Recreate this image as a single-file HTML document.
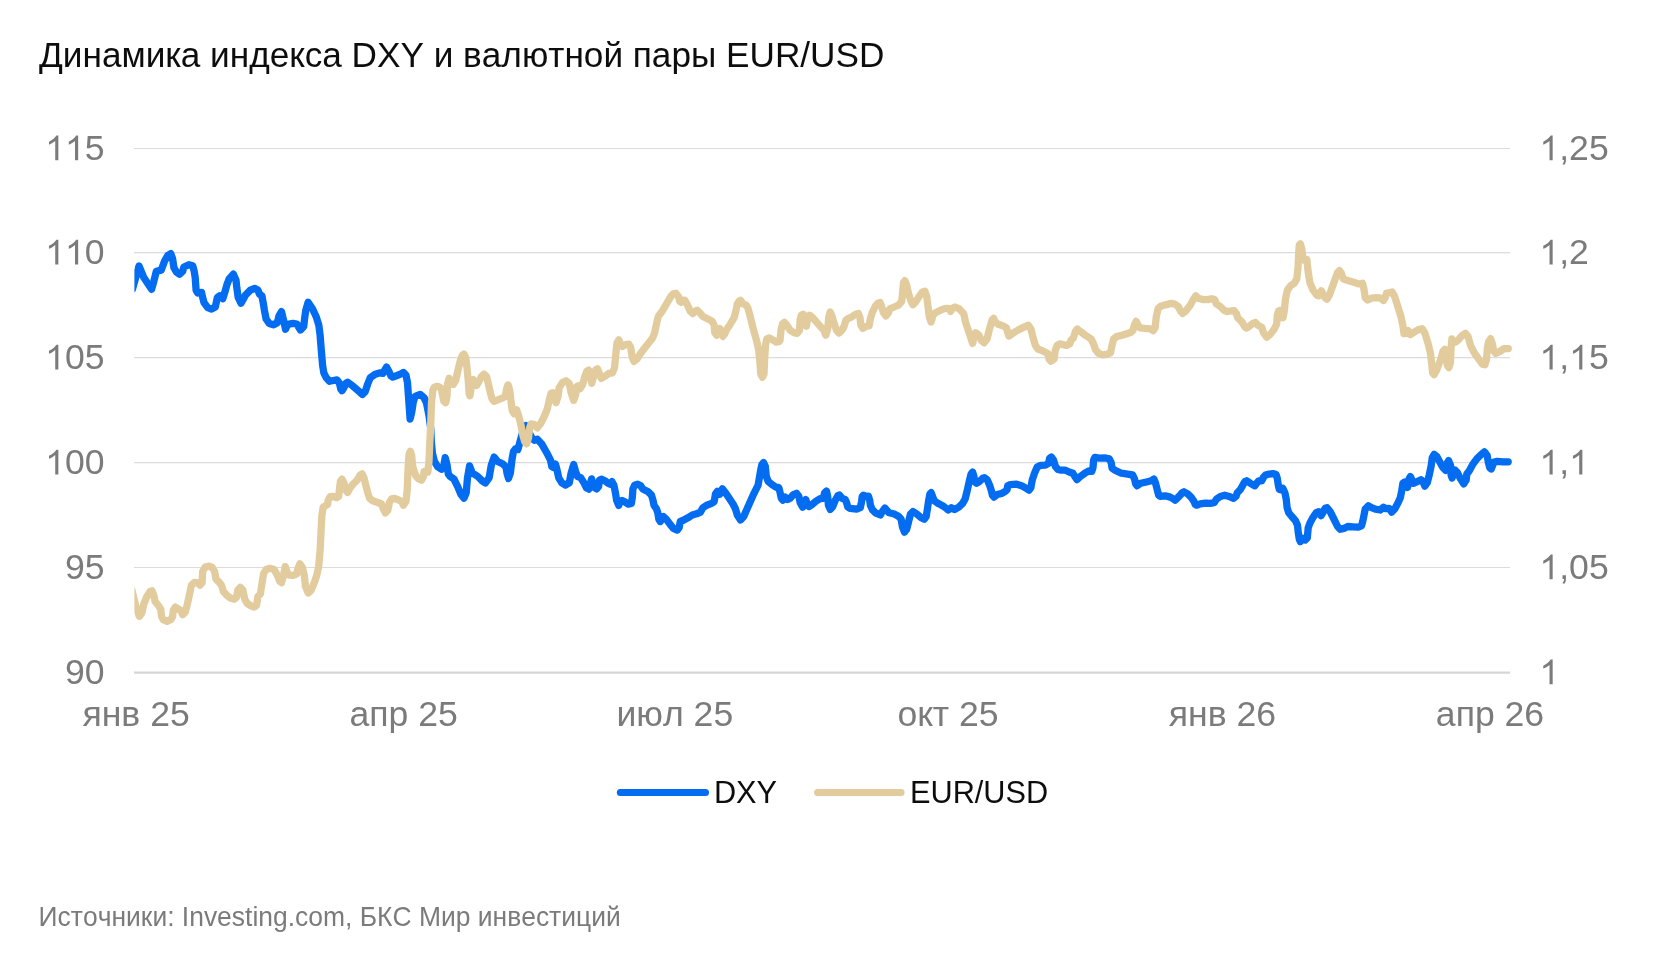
<!DOCTYPE html>
<html><head><meta charset="utf-8"><title>chart</title>
<style>
html,body{margin:0;padding:0;background:#fff;}
body{width:1670px;height:957px;overflow:hidden;font-family:"Liberation Sans",sans-serif;}
svg{display:block;font-family:"Liberation Sans",sans-serif;font-kerning:none;will-change:transform;}
text{font-kerning:none;}
</style></head><body>
<svg width="1670" height="957" viewBox="0 0 1670 957">
<rect width="1670" height="957" fill="#ffffff"/>
<g font-size="35.2" fill="#0d0d0d"><text transform="translate(39 66.5) scale(1 1.01)">Динамика индекса DXY и валютной пары EUR/USD</text></g>
<line x1="134" x2="1510" y1="148.5" y2="148.5" stroke="#dcdcdc" stroke-width="1.2"/><line x1="134" x2="1510" y1="252.6" y2="252.6" stroke="#dcdcdc" stroke-width="1.2"/><line x1="134" x2="1510" y1="357.6" y2="357.6" stroke="#dcdcdc" stroke-width="1.2"/><line x1="134" x2="1510" y1="462.6" y2="462.6" stroke="#dcdcdc" stroke-width="1.2"/><line x1="134" x2="1510" y1="567.5" y2="567.5" stroke="#dcdcdc" stroke-width="1.2"/>
<line x1="134" x2="1510" y1="672.6" y2="672.6" stroke="#d6d6d6" stroke-width="2.2"/>
<g font-size="35.6" fill="#7b7b7b"><path transform="translate(45.10 160.3) scale(0.01738 -0.01681)" d="M763 0L583 0L583 1147Q518 1085 412.5 1023Q307 961 223 930L223 1104Q374 1175 487 1276Q600 1377 647 1472L763 1472Z"/><path transform="translate(64.90 160.3) scale(0.01738 -0.01681)" d="M763 0L583 0L583 1147Q518 1085 412.5 1023Q307 961 223 930L223 1104Q374 1175 487 1276Q600 1377 647 1472L763 1472Z"/><text transform="translate(84.7 160.3) scale(1 1.01)">5</text><path transform="translate(45.10 264.4) scale(0.01738 -0.01681)" d="M763 0L583 0L583 1147Q518 1085 412.5 1023Q307 961 223 930L223 1104Q374 1175 487 1276Q600 1377 647 1472L763 1472Z"/><path transform="translate(64.90 264.4) scale(0.01738 -0.01681)" d="M763 0L583 0L583 1147Q518 1085 412.5 1023Q307 961 223 930L223 1104Q374 1175 487 1276Q600 1377 647 1472L763 1472Z"/><text transform="translate(84.7 264.4) scale(1 1.01)">0</text><path transform="translate(45.10 369.4) scale(0.01738 -0.01681)" d="M763 0L583 0L583 1147Q518 1085 412.5 1023Q307 961 223 930L223 1104Q374 1175 487 1276Q600 1377 647 1472L763 1472Z"/><text transform="translate(64.9 369.4) scale(1 1.01)">05</text><path transform="translate(45.10 474.4) scale(0.01738 -0.01681)" d="M763 0L583 0L583 1147Q518 1085 412.5 1023Q307 961 223 930L223 1104Q374 1175 487 1276Q600 1377 647 1472L763 1472Z"/><text transform="translate(64.9 474.4) scale(1 1.01)">00</text><text transform="translate(64.9 579.3) scale(1 1.01)">95</text><text transform="translate(64.9 684.2) scale(1 1.01)">90</text><path transform="translate(1539.40 160.3) scale(0.01738 -0.01681)" d="M763 0L583 0L583 1147Q518 1085 412.5 1023Q307 961 223 930L223 1104Q374 1175 487 1276Q600 1377 647 1472L763 1472Z"/><text transform="translate(1559.2 160.3) scale(1 1.01)">,25</text><path transform="translate(1539.40 264.4) scale(0.01738 -0.01681)" d="M763 0L583 0L583 1147Q518 1085 412.5 1023Q307 961 223 930L223 1104Q374 1175 487 1276Q600 1377 647 1472L763 1472Z"/><text transform="translate(1559.2 264.4) scale(1 1.01)">,2</text><path transform="translate(1539.40 369.4) scale(0.01738 -0.01681)" d="M763 0L583 0L583 1147Q518 1085 412.5 1023Q307 961 223 930L223 1104Q374 1175 487 1276Q600 1377 647 1472L763 1472Z"/><text transform="translate(1559.2 369.4) scale(1 1.01)">,</text><path transform="translate(1569.09 369.4) scale(0.01738 -0.01681)" d="M763 0L583 0L583 1147Q518 1085 412.5 1023Q307 961 223 930L223 1104Q374 1175 487 1276Q600 1377 647 1472L763 1472Z"/><text transform="translate(1588.89 369.4) scale(1 1.01)">5</text><path transform="translate(1539.40 474.4) scale(0.01738 -0.01681)" d="M763 0L583 0L583 1147Q518 1085 412.5 1023Q307 961 223 930L223 1104Q374 1175 487 1276Q600 1377 647 1472L763 1472Z"/><text transform="translate(1559.2 474.4) scale(1 1.01)">,</text><path transform="translate(1569.09 474.4) scale(0.01738 -0.01681)" d="M763 0L583 0L583 1147Q518 1085 412.5 1023Q307 961 223 930L223 1104Q374 1175 487 1276Q600 1377 647 1472L763 1472Z"/><path transform="translate(1539.40 579.3) scale(0.01738 -0.01681)" d="M763 0L583 0L583 1147Q518 1085 412.5 1023Q307 961 223 930L223 1104Q374 1175 487 1276Q600 1377 647 1472L763 1472Z"/><text transform="translate(1559.2 579.3) scale(1 1.01)">,05</text><path transform="translate(1539.40 684.2) scale(0.01738 -0.01681)" d="M763 0L583 0L583 1147Q518 1085 412.5 1023Q307 961 223 930L223 1104Q374 1175 487 1276Q600 1377 647 1472L763 1472Z"/><text transform="translate(136.1 726.2) scale(1 1.01)" text-anchor="middle">янв 25</text><text transform="translate(403.6 726.2) scale(1 1.01)" text-anchor="middle">апр 25</text><text transform="translate(674.8 726.2) scale(1 1.01)" text-anchor="middle">июл 25</text><text transform="translate(948 726.2) scale(1 1.01)" text-anchor="middle">окт 25</text><text transform="translate(1222.5 726.2) scale(1 1.01)" text-anchor="middle">янв 26</text><text transform="translate(1490 726.2) scale(1 1.01)" text-anchor="middle">апр 26</text></g>
<defs><clipPath id="cp"><rect x="134.4" y="140" width="1380" height="540"/></clipPath></defs>
<g clip-path="url(#cp)" fill="none" stroke-linejoin="round" stroke-linecap="round" stroke-width="7.3">
<path d="M132.5 288.9 L139.0 266.0 L143.8 277.6 L151.6 289.3 L153.8 281.4 L156.3 271.3 L161.3 270.1 L164.5 261.3 L167.6 255.7 L170.8 253.7 L172.6 258.8 L173.9 267.6 L176.4 272.0 L179.5 274.2 L182.7 271.3 L183.9 267.0 L188.9 264.7 L192.7 265.7 L194.2 271.3 L195.2 277.6 L196.1 290.2 L197.7 293.0 L201.5 292.4 L202.7 297.7 L204.0 302.7 L207.7 307.7 L211.5 309.1 L215.3 307.1 L216.5 301.4 L217.4 297.4 L219.7 295.8 L222.8 298.7 L224.7 292.7 L226.8 285.1 L229.1 278.9 L233.4 274.1 L236.0 280.1 L236.8 287.6 L238.1 297.1 L241.0 303.3 L243.5 298.9 L245.4 295.2 L250.4 290.2 L254.8 288.3 L257.9 290.2 L259.5 294.2 L261.9 295.8 L263.2 302.7 L264.4 310.2 L266.1 319.0 L269.2 323.4 L273.6 324.8 L277.3 322.8 L279.0 315.9 L281.5 311.7 L283.6 320.3 L285.5 329.2 L287.7 324.3 L293.0 323.4 L296.8 324.0 L300.5 330.0 L303.7 326.5 L304.7 317.7 L305.8 310.2 L308.1 302.3 L312.5 308.8 L316.3 317.0 L318.8 325.1 L320.1 335.1 L321.3 350.2 L322.6 365.2 L323.8 372.8 L326.3 377.8 L329.5 381.3 L333.2 380.5 L337.0 379.9 L339.5 383.4 L340.8 389.1 L342.0 390.7 L343.9 387.8 L345.8 383.4 L347.6 382.2 L352.7 385.9 L357.7 390.3 L362.4 394.5 L365.2 391.6 L367.7 384.0 L370.2 377.8 L375.2 374.3 L380.3 372.8 L382.8 373.4 L384.6 370.3 L386.5 367.1 L389.0 371.5 L390.9 375.9 L392.8 377.1 L397.8 375.3 L401.6 373.4 L403.4 372.4 L406.0 375.3 L407.5 382.8 L410.1 419.0 L411.9 411.3 L413.2 402.5 L415.1 396.3 L420.1 394.4 L423.9 397.5 L426.4 402.5 L428.9 415.1 L430.7 428.0 L431.4 442.7 L432.4 453.0 L434.4 461.3 L437.6 466.7 L441.4 469.2 L443.9 465.2 L445.2 457.7 L447.1 465.2 L448.3 474.0 L450.2 476.5 L453.9 479.0 L457.7 486.6 L460.8 494.1 L464.0 498.1 L466.2 492.8 L467.5 477.8 L469.6 465.9 L472.1 472.8 L477.8 476.5 L482.2 480.9 L485.3 483.0 L489.1 477.8 L491.3 465.2 L494.1 457.1 L497.8 461.5 L502.9 464.0 L506.0 467.1 L507.2 474.0 L508.5 478.4 L510.4 472.8 L511.9 460.2 L513.5 451.4 L515.4 448.9 L517.9 449.6 L520.4 440.2 L522.9 431.4 L526.1 425.7 L529.2 432.6 L531.7 437.6 L534.2 440.2 L537.3 439.2 L541.7 443.9 L546.7 452.7 L550.5 460.2 L551.8 466.5 L553.6 467.5 L555.5 464.2 L557.4 471.5 L558.7 477.8 L561.8 482.8 L565.5 485.0 L569.3 482.8 L571.2 472.8 L573.7 464.6 L575.6 471.5 L577.5 476.5 L580.7 477.6 L583.8 482.7 L586.3 487.7 L588.8 489.1 L590.3 483.9 L591.6 478.9 L593.2 483.9 L594.5 487.7 L596.6 488.9 L598.6 486.4 L599.5 480.2 L601.3 479.2 L605.1 480.8 L608.2 483.3 L610.1 484.2 L612.0 481.7 L613.9 485.2 L615.4 492.7 L616.6 500.2 L618.7 505.4 L620.2 501.5 L622.0 500.5 L625.2 502.1 L628.3 504.1 L631.4 503.4 L632.3 497.7 L632.9 488.9 L634.6 485.2 L637.7 484.2 L640.8 485.8 L642.7 488.9 L647.7 491.4 L651.5 495.2 L653.0 500.2 L654.0 505.2 L656.5 509.0 L657.8 512.8 L658.8 519.0 L660.3 521.5 L662.2 517.8 L663.4 516.5 L666.6 519.7 L670.3 524.7 L673.4 528.4 L677.2 530.1 L679.1 527.8 L680.3 521.5 L682.9 520.5 L687.9 517.8 L692.3 515.0 L696.6 513.8 L700.4 512.1 L702.9 507.7 L706.7 505.2 L711.7 503.4 L714.2 501.5 L715.5 493.9 L717.3 491.4 L719.8 494.2 L722.4 488.9 L725.5 492.7 L729.2 498.3 L733.0 504.0 L735.5 509.0 L737.4 515.3 L740.5 520.0 L743.7 516.5 L748.1 506.5 L753.1 495.2 L758.1 485.2 L760.7 470.1 L761.9 464.5 L763.5 462.6 L765.3 466.4 L766.3 476.4 L768.2 481.4 L771.9 484.5 L775.7 487.1 L778.8 487.7 L780.1 492.7 L781.3 498.3 L782.9 500.2 L785.1 497.1 L787.6 499.6 L790.1 498.3 L793.3 494.6 L796.6 493.3 L798.9 496.5 L800.2 502.7 L802.7 507.1 L804.5 503.4 L805.8 499.6 L807.1 503.4 L808.9 506.5 L812.1 504.6 L816.5 500.8 L820.2 498.7 L823.4 498.3 L824.6 492.7 L826.5 491.1 L827.7 496.5 L828.4 505.2 L830.3 509.4 L832.8 506.5 L835.3 500.2 L837.8 495.8 L839.3 495.0 L842.2 498.3 L845.3 499.6 L846.6 502.7 L847.8 507.1 L850.3 508.4 L856.6 509.2 L860.3 507.7 L861.6 501.5 L862.2 496.5 L863.5 495.2 L866.0 496.5 L868.5 496.2 L869.7 500.2 L870.4 505.2 L872.3 509.6 L875.4 512.8 L880.4 515.0 L882.3 511.5 L884.8 508.0 L887.3 510.9 L889.2 512.8 L894.2 514.0 L898.0 515.9 L901.1 519.0 L902.4 526.6 L904.5 532.2 L906.7 529.1 L908.6 521.5 L910.5 514.0 L913.0 511.5 L916.8 514.0 L921.2 517.8 L924.3 519.3 L926.2 516.5 L927.4 509.0 L928.7 500.2 L929.9 493.9 L931.2 492.7 L933.1 497.7 L934.3 500.8 L938.1 503.4 L940.0 504.3 L943.8 506.5 L948.2 510.0 L951.3 507.8 L954.5 509.5 L958.8 507.1 L962.6 503.4 L965.1 499.0 L967.0 491.5 L969.5 480.2 L971.1 473.9 L972.6 472.0 L973.9 476.4 L974.9 482.1 L976.6 483.3 L979.5 481.4 L982.7 478.3 L984.5 477.7 L987.1 479.6 L989.6 485.2 L991.4 490.8 L992.4 495.2 L993.9 497.1 L997.1 494.6 L1001.5 493.4 L1005.2 491.5 L1007.1 489.6 L1007.7 485.8 L1010.3 484.6 L1016.5 484.2 L1021.5 485.8 L1025.3 487.7 L1029.1 490.2 L1030.9 487.7 L1032.2 480.2 L1034.7 472.7 L1037.2 467.0 L1040.3 465.4 L1045.4 465.1 L1048.5 463.3 L1049.7 458.2 L1051.4 457.0 L1053.5 460.1 L1055.4 466.4 L1057.9 469.5 L1061.0 470.2 L1065.4 470.2 L1069.2 472.0 L1072.9 473.3 L1074.8 476.4 L1077.0 479.6 L1080.5 476.4 L1085.5 472.7 L1089.2 470.8 L1091.8 471.4 L1093.0 467.6 L1093.6 460.1 L1094.9 457.4 L1099.3 458.2 L1105.5 458.0 L1109.3 458.9 L1111.2 462.6 L1112.1 468.3 L1115.0 470.2 L1121.3 473.2 L1127.6 474.1 L1132.6 474.9 L1134.5 478.9 L1135.7 483.9 L1137.0 485.8 L1140.7 483.3 L1146.4 482.0 L1151.4 480.8 L1153.9 479.1 L1155.4 482.6 L1157.0 488.9 L1158.7 495.2 L1160.2 496.4 L1165.2 495.8 L1170.2 497.1 L1173.3 498.9 L1175.0 500.2 L1177.7 497.7 L1180.2 495.2 L1182.1 492.7 L1184.0 491.8 L1187.7 493.9 L1191.5 497.7 L1194.0 501.4 L1195.3 504.6 L1196.5 505.2 L1200.3 503.9 L1205.3 503.1 L1210.3 503.3 L1214.1 502.7 L1216.6 498.9 L1220.3 496.4 L1224.7 495.2 L1229.1 496.4 L1233.5 498.3 L1236.0 496.4 L1237.3 492.7 L1240.4 489.5 L1243.5 483.9 L1245.2 481.4 L1246.7 480.8 L1250.4 483.3 L1254.8 485.8 L1257.3 482.6 L1258.6 480.8 L1261.7 480.8 L1263.6 477.0 L1265.5 475.1 L1269.2 474.1 L1273.0 473.6 L1276.1 474.5 L1277.4 478.9 L1278.3 485.1 L1279.3 489.5 L1281.2 489.9 L1282.8 488.3 L1284.9 492.7 L1286.2 498.9 L1287.1 507.7 L1288.7 512.7 L1291.8 516.5 L1295.6 520.9 L1297.5 525.3 L1298.3 532.8 L1299.3 539.1 L1300.3 541.6 L1302.5 538.4 L1305.0 540.1 L1307.3 537.8 L1308.2 527.8 L1310.1 522.8 L1313.2 517.1 L1316.3 512.7 L1318.8 511.7 L1321.1 515.6 L1323.2 512.1 L1325.1 508.3 L1327.0 507.7 L1330.1 511.5 L1333.9 519.0 L1337.6 526.5 L1340.2 529.3 L1343.9 528.4 L1347.7 526.5 L1352.7 526.8 L1358.3 527.1 L1361.5 525.9 L1362.7 521.5 L1364.0 515.2 L1365.2 509.0 L1368.4 505.8 L1371.5 507.7 L1375.3 509.2 L1380.3 510.0 L1382.2 508.3 L1383.4 507.3 L1385.9 508.7 L1389.1 508.3 L1391.6 512.1 L1394.7 509.0 L1397.8 503.3 L1400.3 497.7 L1401.6 491.4 L1402.9 483.3 L1404.7 482.0 L1407.6 487.4 L1409.1 478.9 L1410.4 476.6 L1412.3 480.8 L1413.5 483.3 L1416.6 482.0 L1421.0 479.7 L1422.9 481.4 L1424.8 486.1 L1427.3 482.6 L1429.2 475.1 L1431.1 466.3 L1432.3 457.6 L1434.2 454.4 L1436.7 456.3 L1439.8 461.9 L1443.0 467.6 L1445.5 470.3 L1447.4 462.6 L1448.6 460.7 L1450.5 465.1 L1451.1 475.1 L1452.1 478.0 L1453.6 472.6 L1454.9 470.1 L1457.4 472.6 L1460.5 478.9 L1463.7 483.9 L1466.2 480.1 L1466.8 473.9 L1469.3 470.7 L1473.1 463.8 L1476.8 458.8 L1480.6 455.0 L1484.4 451.9 L1487.1 455.2 L1488.4 462.7 L1489.7 467.7 L1491.2 469.0 L1492.8 465.2 L1494.0 462.1 L1497.2 461.4 L1502.8 461.8 L1508.2 461.8" stroke="#036cf0"/>
<path d="M131.9 590.2 L136.9 610.3 L139.4 616.3 L141.9 612.8 L143.8 604.0 L146.9 596.5 L150.1 591.5 L151.9 590.8 L153.8 595.2 L155.1 601.5 L158.2 605.3 L160.7 609.0 L161.6 616.6 L163.2 619.7 L167.0 621.3 L170.8 619.7 L172.6 616.6 L173.3 610.3 L175.4 607.1 L178.3 609.0 L180.8 610.5 L182.7 614.7 L185.2 612.2 L187.1 605.3 L189.6 594.0 L191.4 585.2 L194.6 582.3 L197.7 582.9 L200.0 585.2 L202.1 582.7 L202.7 571.4 L205.2 567.0 L209.0 566.1 L212.1 567.4 L214.6 571.4 L215.9 578.9 L219.0 582.1 L221.5 585.2 L223.4 591.5 L226.6 595.2 L230.3 598.0 L234.1 599.2 L236.6 597.1 L237.8 590.2 L240.3 587.3 L242.9 590.2 L244.7 599.0 L247.2 603.4 L251.0 605.9 L254.1 607.1 L256.6 605.3 L257.9 596.5 L260.4 594.0 L261.7 585.2 L263.5 573.9 L266.1 569.5 L269.8 568.3 L274.2 569.5 L277.3 575.2 L279.8 581.4 L281.5 582.7 L283.6 575.2 L285.2 566.6 L287.4 572.7 L289.2 575.2 L293.0 575.4 L296.8 573.9 L298.0 568.3 L299.9 563.9 L302.4 567.6 L304.3 575.2 L305.5 586.5 L308.1 593.0 L311.2 590.2 L314.3 582.7 L316.8 575.2 L318.7 566.4 L320.0 551.3 L320.1 550.4 L321.1 530.3 L321.9 515.3 L323.2 507.1 L325.7 505.6 L327.6 504.6 L328.2 500.2 L330.1 496.7 L333.2 496.5 L336.4 497.7 L338.6 496.5 L339.5 488.9 L340.4 481.4 L342.0 479.2 L343.9 482.7 L345.8 490.2 L347.6 492.4 L349.5 488.9 L352.7 484.5 L357.1 480.2 L360.2 475.1 L362.1 473.9 L363.9 477.6 L365.8 485.2 L367.7 492.7 L369.6 498.3 L372.7 500.8 L377.7 502.5 L381.5 504.0 L383.4 509.0 L385.3 513.0 L387.8 510.3 L389.3 502.7 L391.5 499.0 L394.0 498.3 L397.8 499.6 L401.6 501.5 L403.4 505.2 L406.0 501.5 L407.2 490.2 L408.1 467.6 L409.1 453.8 L410.3 451.3 L411.6 455.1 L412.9 467.6 L415.4 475.1 L418.5 478.9 L421.6 480.2 L423.5 476.4 L424.1 471.4 L426.0 470.8 L427.9 472.0 L429.0 461.3 L429.8 442.5 L430.6 427.8 L431.5 402.7 L432.8 390.4 L434.5 387.0 L437.6 386.3 L441.3 388.3 L442.6 395.2 L443.9 401.4 L445.7 402.7 L447.0 396.4 L447.6 383.9 L449.1 378.2 L451.4 383.6 L453.3 384.5 L455.8 380.1 L458.3 368.8 L460.8 358.8 L462.7 355.0 L463.9 354.0 L465.8 357.6 L467.1 368.8 L468.3 381.4 L469.2 393.9 L469.9 395.8 L470.8 390.2 L471.4 381.4 L473.3 379.7 L475.2 383.9 L476.5 385.5 L479.0 381.4 L481.5 376.4 L484.0 374.1 L486.5 376.4 L488.4 383.9 L490.3 392.7 L492.1 398.9 L494.0 401.4 L497.8 399.9 L502.8 397.9 L505.3 396.4 L506.6 388.9 L508.1 384.9 L509.7 390.2 L510.9 400.2 L512.2 410.2 L514.1 413.7 L516.6 409.8 L518.5 415.2 L521.0 425.3 L522.9 435.3 L524.7 441.6 L526.6 443.8 L528.5 437.8 L529.7 427.8 L531.0 424.0 L534.1 424.3 L537.3 427.8 L540.4 424.0 L544.2 416.5 L547.3 409.0 L549.2 400.2 L551.1 393.3 L552.9 392.7 L554.2 397.7 L556.1 402.7 L558.0 396.4 L559.2 387.6 L562.4 382.6 L566.1 380.8 L569.2 383.3 L571.1 392.7 L573.6 400.4 L575.5 395.2 L576.8 386.4 L578.7 385.8 L579.9 388.9 L582.4 385.1 L584.9 376.4 L586.8 371.3 L588.7 370.1 L590.6 375.1 L591.8 383.3 L593.7 376.4 L595.6 370.1 L597.5 368.8 L601.3 378.4 L605.0 376.3 L608.8 373.4 L612.6 372.8 L614.5 367.8 L615.7 355.2 L617.0 342.7 L618.8 339.9 L620.7 344.6 L622.6 346.5 L625.7 344.6 L628.9 344.2 L630.8 347.7 L632.0 356.5 L633.9 361.5 L637.0 359.0 L640.2 354.0 L643.9 349.0 L648.9 342.7 L652.7 337.7 L654.6 332.7 L656.5 323.9 L658.3 316.4 L662.1 311.3 L666.5 303.8 L670.9 296.3 L673.4 293.8 L675.9 293.2 L678.4 296.3 L679.7 301.3 L680.9 302.3 L682.8 300.1 L684.7 300.1 L687.2 304.5 L690.3 311.3 L692.8 313.6 L695.3 311.3 L697.2 310.3 L699.7 312.6 L702.9 316.4 L707.9 318.9 L712.3 321.4 L714.1 325.1 L714.8 332.7 L716.6 335.2 L718.5 331.4 L719.8 328.5 L721.0 332.7 L722.9 336.4 L724.8 333.9 L726.7 329.5 L730.4 323.9 L734.2 317.6 L736.1 310.1 L737.3 303.8 L739.2 301.1 L740.5 300.3 L743.0 303.8 L746.1 305.1 L748.0 308.2 L750.5 317.6 L753.6 330.2 L756.8 341.4 L758.7 350.2 L759.9 361.5 L760.8 374.0 L762.4 377.2 L764.0 374.0 L764.5 361.5 L765.5 345.2 L766.8 338.9 L769.3 337.9 L773.1 340.2 L776.2 342.1 L778.7 341.7 L780.0 340.3 L781.0 330.2 L782.5 323.9 L784.4 322.4 L786.9 325.2 L790.1 330.2 L794.5 333.0 L797.0 333.4 L799.5 330.2 L800.1 320.2 L801.3 315.2 L803.2 314.2 L805.1 318.9 L806.4 326.2 L807.6 318.9 L809.5 315.2 L812.6 317.7 L817.0 322.7 L821.4 327.7 L823.9 330.2 L825.8 335.2 L827.7 329.0 L828.7 317.7 L830.2 312.0 L832.1 316.4 L833.9 322.7 L836.5 330.2 L839.0 333.1 L842.1 330.2 L844.0 326.5 L845.9 320.2 L848.4 318.3 L851.5 317.1 L855.3 314.5 L858.4 313.5 L860.0 317.7 L860.9 325.2 L862.8 328.3 L865.9 326.5 L869.1 325.8 L870.3 318.9 L872.2 312.7 L875.3 306.4 L877.8 303.3 L880.1 302.5 L881.6 306.4 L883.5 312.7 L886.0 315.9 L888.5 312.7 L889.7 308.9 L894.1 307.0 L898.5 305.1 L901.7 301.4 L902.7 291.3 L903.5 282.6 L904.8 280.7 L906.7 285.1 L908.6 293.9 L911.1 301.4 L912.9 304.8 L916.1 301.4 L919.2 296.4 L922.4 292.0 L924.9 291.2 L926.7 296.4 L928.0 306.4 L929.2 316.4 L931.1 322.1 L933.0 315.2 L935.5 312.7 L940.5 310.2 L945.5 308.3 L948.7 308.3 L950.6 311.4 L952.4 308.3 L955.0 307.0 L959.3 308.9 L963.8 313.9 L965.7 322.7 L968.2 330.2 L970.7 337.7 L972.6 343.4 L974.5 335.2 L975.7 332.7 L978.8 335.2 L981.3 340.3 L984.1 342.8 L987.0 339.0 L989.5 329.0 L992.0 320.2 L993.6 318.3 L995.8 322.7 L998.9 324.6 L1002.7 325.8 L1006.4 327.7 L1007.7 332.7 L1008.9 336.1 L1012.7 333.4 L1017.7 330.2 L1024.0 327.1 L1028.4 325.2 L1030.9 329.0 L1032.8 336.5 L1035.3 345.3 L1037.8 349.0 L1042.8 350.9 L1047.8 353.4 L1049.1 359.1 L1050.9 361.3 L1054.1 359.1 L1055.3 350.3 L1057.2 345.3 L1059.7 343.8 L1062.9 344.6 L1066.6 345.4 L1069.7 344.0 L1071.0 340.3 L1073.5 337.7 L1075.4 331.5 L1077.3 329.0 L1080.4 331.5 L1085.4 335.2 L1091.1 339.0 L1093.6 344.0 L1095.5 349.7 L1098.6 353.4 L1102.4 354.8 L1106.7 354.3 L1110.5 352.8 L1111.8 346.5 L1113.6 339.0 L1116.8 336.5 L1121.8 335.2 L1126.8 333.7 L1130.6 332.5 L1133.1 330.2 L1134.3 325.2 L1136.2 321.4 L1138.1 325.2 L1140.0 327.8 L1145.0 328.4 L1150.1 328.8 L1153.2 330.6 L1155.1 327.8 L1156.3 316.5 L1158.2 308.4 L1160.7 306.2 L1166.4 304.6 L1171.4 303.4 L1174.5 304.0 L1178.3 306.5 L1180.8 311.5 L1182.7 313.4 L1185.8 310.9 L1190.2 305.2 L1193.3 299.6 L1195.8 295.8 L1198.3 298.3 L1202.7 299.6 L1207.7 299.6 L1211.5 298.7 L1214.6 299.6 L1216.5 304.0 L1220.3 306.5 L1224.0 310.3 L1227.2 311.5 L1231.6 310.9 L1234.1 310.6 L1236.6 314.0 L1237.8 317.8 L1241.6 321.5 L1244.7 326.6 L1246.6 328.1 L1249.7 325.9 L1252.9 323.4 L1255.4 322.5 L1257.9 325.3 L1261.7 327.2 L1263.5 332.8 L1266.7 337.2 L1270.4 334.1 L1274.2 329.1 L1276.7 324.0 L1277.3 315.3 L1278.6 310.9 L1281.1 310.3 L1283.0 317.8 L1284.2 311.5 L1285.5 299.0 L1287.4 290.2 L1290.5 285.8 L1294.3 283.3 L1296.8 278.9 L1298.0 267.6 L1298.7 252.6 L1299.3 245.0 L1300.3 243.8 L1301.8 248.8 L1303.0 259.5 L1304.9 260.7 L1306.8 259.5 L1308.1 271.4 L1309.9 282.7 L1313.1 290.2 L1316.8 295.2 L1318.7 295.8 L1321.3 290.7 L1323.2 294.5 L1325.0 297.6 L1326.9 299.2 L1329.4 295.1 L1332.6 286.3 L1335.7 277.6 L1337.6 272.5 L1339.5 270.7 L1341.3 273.2 L1343.2 278.8 L1346.4 280.1 L1352.6 281.9 L1358.3 283.8 L1360.8 283.8 L1362.4 283.2 L1363.9 288.8 L1365.2 297.6 L1367.7 300.1 L1371.4 298.2 L1376.5 297.6 L1380.8 298.2 L1383.4 300.5 L1385.2 297.6 L1386.5 293.2 L1389.0 292.9 L1392.1 292.0 L1394.6 296.4 L1397.8 306.4 L1400.9 316.4 L1402.8 325.2 L1404.0 333.7 L1407.2 333.4 L1408.1 330.5 L1410.3 334.6 L1414.1 332.1 L1418.5 329.6 L1422.2 328.8 L1424.7 332.7 L1427.9 342.8 L1430.4 352.8 L1431.6 362.8 L1432.6 372.9 L1434.1 374.7 L1436.6 370.3 L1440.4 360.3 L1442.9 351.5 L1444.8 349.3 L1446.1 355.3 L1447.3 365.3 L1448.9 367.6 L1450.4 362.8 L1451.1 347.8 L1451.9 339.0 L1453.6 341.5 L1455.5 342.1 L1458.6 339.6 L1461.7 335.9 L1465.5 333.4 L1468.0 336.5 L1470.5 345.3 L1474.3 352.8 L1478.7 359.1 L1482.4 364.1 L1484.9 364.7 L1486.6 359.1 L1487.4 347.8 L1488.7 341.5 L1490.6 338.7 L1492.4 344.0 L1493.7 350.9 L1495.6 353.4 L1499.5 351.6 L1504.0 348.6 L1508.3 348.6" stroke="#e2cc9e"/>
</g>
<g fill="none" stroke-linecap="round" stroke-width="7">
<line x1="620.3" x2="705.5" y1="792.5" y2="792.5" stroke="#036cf0"/>
<line x1="817.5" x2="901.1" y1="792.5" y2="792.5" stroke="#e2cc9e"/>
</g>
<g font-size="30.7" fill="#0d0d0d"><text transform="translate(713.9 802.8) scale(1 1.01)">DXY</text><text transform="translate(910 802.8) scale(1 1.01)">EUR/USD</text></g>
<g font-size="26.45" fill="#7b7b7b"><text transform="translate(38.6 926) scale(1 1.01)">Источники: Investing.com, БКС Мир инвестиций</text></g>
</svg>
</body></html>
